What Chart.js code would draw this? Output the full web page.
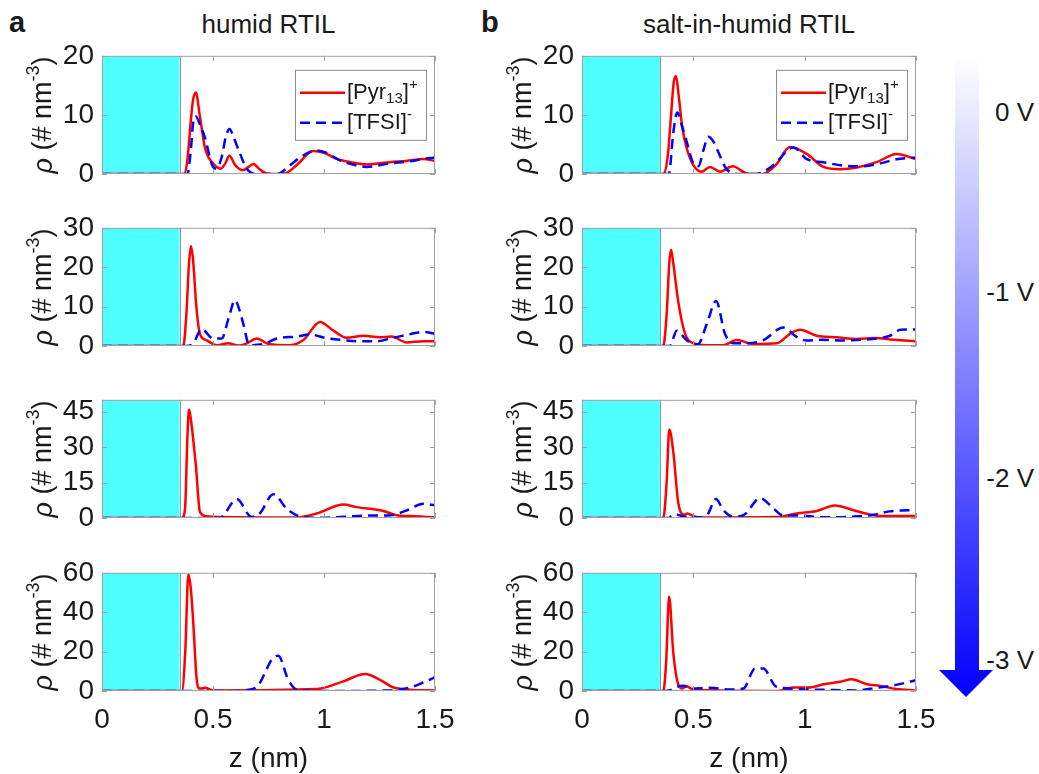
<!DOCTYPE html>
<html><head><meta charset="utf-8">
<script src="https://cdn.jsdelivr.net/npm/chart.js@4"></script>
<style>
body{margin:0;background:#fff;width:1039px;height:774px;overflow:hidden;position:relative;font-family:'Liberation Sans',Arial,sans-serif;}
canvas{position:absolute;}
.t{position:absolute;color:#1a1a1a;font-size:26px;line-height:30px;white-space:nowrap;}
.v{position:absolute;right:5px;color:#1a1a1a;font-size:26px;line-height:30px;text-align:right;white-space:nowrap;}
</style></head><body>
<div class="t" style="left:9px;top:7px;font-weight:bold;font-size:29px;">a</div>
<div class="t" style="left:481px;top:7px;font-weight:bold;font-size:29px;">b</div>
<div class="t" style="left:102px;width:333px;top:9px;text-align:center;">humid RTIL</div>
<div class="t" style="left:582px;width:334px;top:9px;text-align:center;">salt-in-humid RTIL</div>
<div class="v" style="top:97px;">0 V</div>
<div class="v" style="top:277px;">-1 V</div>
<div class="v" style="top:463px;">-2 V</div>
<div class="v" style="top:645px;">-3 V</div>
<canvas id="cbar" width="75" height="660" style="left:930px;top:50px;"></canvas>
<script>
// ---------- data ----------
const columnTitles = ['humid RTIL', 'salt-in-humid RTIL'];
const seriesLabels = ['[Pyr13]+', '[TFSI]-'];
const potentials = ['0 V', '-1 V', '-2 V', '-3 V'];
const xTicks = [0, 0.5, 1, 1.5];
const yMaxRows = [20, 30, 50, 60];
const yTicksRows = [[0, 10, 20], [0, 10, 20, 30], [0, 15, 30, 45], [0, 20, 40, 60]];
const electrodeZ = [0, 0.35];

// humid RTIL, 0 V
const a1PyrZ = [0, 0.37, 0.385, 0.40, 0.41, 0.423, 0.44, 0.464, 0.50, 0.535, 0.555, 0.574, 0.60, 0.634, 0.66, 0.682, 0.71, 0.742, 0.80, 0.832, 0.88, 0.951, 1.0, 1.057, 1.12, 1.192, 1.25, 1.297, 1.37, 1.447, 1.5];
const a1PyrRho = [0, 0, 2.5, 9, 12.5, 13.8, 10, 4.4, 1.8, 0.9, 1.8, 3.1, 1.5, 0.65, 1.2, 1.7, 0.8, 0.1, 0, 0.2, 1.6, 3.9, 3.6, 2.55, 2.0, 1.6, 1.8, 2.0, 2.2, 2.55, 2.2];
const a1TfsiZ = [0, 0.385, 0.40, 0.41, 0.423, 0.44, 0.464, 0.50, 0.516, 0.54, 0.557, 0.574, 0.595, 0.617, 0.652, 0.70, 0.79, 0.847, 0.90, 0.967, 1.01, 1.072, 1.13, 1.19, 1.297, 1.38, 1.447, 1.5];
const a1TfsiRho = [0, 0, 4, 8.5, 9.75, 8.5, 6.1, 1.2, 0.9, 3, 6.2, 7.6, 6, 3.9, 0.9, 0, 0, 1.5, 3.0, 4.0, 3.6, 2.3, 1.6, 1.2, 1.8, 2.1, 2.55, 2.8];
// salt-in-humid RTIL, 0 V
const b1PyrZ = [0, 0.365, 0.385, 0.40, 0.412, 0.422, 0.435, 0.45, 0.47, 0.50, 0.538, 0.575, 0.62, 0.677, 0.74, 0.81, 0.87, 0.934, 1.009, 1.084, 1.159, 1.234, 1.323, 1.413, 1.5];
const b1PyrRho = [0, 0, 3, 10, 15.5, 16.6, 13, 8, 4.4, 1.5, 0.4, 1.2, 0.4, 1.3, 0.1, 0, 1.5, 4.55, 3.4, 1.2, 0.8, 1.1, 2.0, 3.4, 2.5];
const b1TfsiZ = [0, 0.39, 0.41, 0.428, 0.45, 0.47, 0.50, 0.523, 0.545, 0.567, 0.59, 0.61, 0.65, 0.71, 0.78, 0.86, 0.95, 1.01, 1.084, 1.174, 1.25, 1.34, 1.413, 1.5];
const b1TfsiRho = [0, 0, 7, 10.4, 8, 5.5, 1.8, 1.3, 4, 6.3, 5.5, 3.9, 0.8, 0, 0, 1.5, 4.5, 2.5, 2.0, 1.4, 1.3, 1.8, 2.5, 2.8];
// -1 V
const a2PyrZ = [0, 0.366, 0.38, 0.392, 0.401, 0.41, 0.425, 0.441, 0.47, 0.517, 0.569, 0.614, 0.65, 0.697, 0.75, 0.847, 0.907, 0.982, 1.042, 1.102, 1.177, 1.25, 1.305, 1.372, 1.447, 1.5];
const a2PyrRho = [0, 0, 8, 21, 25.4, 22, 10, 3.1, 1.5, 0.2, 0.7, 0.1, 0.6, 1.9, 0.5, 0.2, 1.5, 6.1, 3.9, 2.1, 2.6, 2.2, 2.4, 0.9, 1.2, 1.2];
const a2TfsiZ = [0, 0.38, 0.41, 0.449, 0.5, 0.539, 0.57, 0.599, 0.62, 0.637, 0.664, 0.727, 0.787, 0.877, 0.937, 1.01, 1.087, 1.16, 1.237, 1.313, 1.387, 1.447, 1.5];
const a2TfsiRho = [0, 0, 0.6, 4.3, 1.9, 1.9, 7, 11.6, 9, 5.5, 0.2, 0.5, 1.9, 2.4, 2.9, 2.0, 1.5, 1.2, 1.2, 2.1, 3.0, 3.6, 3.1];
const b2PyrZ = [0, 0.365, 0.38, 0.392, 0.40, 0.41, 0.433, 0.463, 0.50, 0.56, 0.635, 0.695, 0.77, 0.875, 0.934, 0.979, 1.054, 1.144, 1.234, 1.31, 1.4, 1.5];
const b2PyrRho = [0, 0, 8, 21, 24.4, 21, 11, 3.1, 0.7, 0.2, 0.2, 1.5, 0.5, 0.7, 3.1, 4.1, 2.6, 2.2, 1.8, 2.0, 1.6, 1.2];
const b2TfsiZ = [0, 0.395, 0.425, 0.47, 0.52, 0.56, 0.602, 0.642, 0.68, 0.74, 0.815, 0.904, 0.964, 1.01, 1.08, 1.17, 1.25, 1.325, 1.383, 1.43, 1.5];
const b2TfsiRho = [0, 0, 3.9, 1.5, 0.4, 5.5, 11.4, 3.1, 0.7, 0.7, 1.5, 4.7, 2.3, 1.4, 1.6, 1.4, 1.6, 1.9, 2.6, 4.1, 4.2];
// -2 V
const a3PyrZ = [0, 0.359, 0.374, 0.385, 0.392, 0.40, 0.423, 0.441, 0.47, 0.54, 0.87, 0.967, 1.087, 1.147, 1.267, 1.327, 1.387, 1.5];
const a3PyrRho = [0, 0, 3.9, 35, 45.9, 42, 22, 2.7, 0.7, 0.4, 0.2, 1.9, 5.7, 4.6, 3.0, 1.2, 0.8, 0.3];
const a3TfsiZ = [0, 0.53, 0.607, 0.674, 0.71, 0.772, 0.832, 0.89, 0.99, 1.087, 1.19, 1.3, 1.367, 1.447, 1.5];
const a3TfsiRho = [0, 0, 8.0, 0.5, 1.9, 10.0, 4.0, 0.7, 0.1, 0.5, 1.0, 1.2, 3.0, 6.0, 5.4];
const b3PyrZ = [0, 0.365, 0.38, 0.392, 0.41, 0.433, 0.46, 0.473, 0.50, 0.53, 0.88, 0.964, 1.054, 1.136, 1.22, 1.31, 1.38, 1.5];
const b3PyrRho = [0, 0, 15, 37.4, 28, 6.0, 1.4, 1.9, 0.8, 0.2, 0.4, 1.9, 3.0, 5.3, 3.3, 1.2, 0.8, 0.8];
const b3TfsiZ = [0, 0.39, 0.40, 0.418, 0.47, 0.53, 0.56, 0.602, 0.635, 0.68, 0.73, 0.80, 0.86, 0.90, 0.99, 1.08, 1.2, 1.31, 1.38, 1.5];
const b3TfsiRho = [0, 0, 0.7, 1.5, 0.4, 0.3, 1.0, 8.0, 3.3, 0.5, 1.5, 8.4, 4.0, 1.2, 1.0, 0.3, 0.5, 1.4, 2.8, 3.4];
// -3 V
const a4PyrZ = [0, 0.36, 0.375, 0.389, 0.40, 0.411, 0.426, 0.44, 0.464, 0.50, 0.97, 1.087, 1.185, 1.252, 1.31, 1.387, 1.5];
const a4PyrRho = [0, 0, 20, 59.3, 52, 35, 6.5, 1.3, 1.6, 0.3, 1.0, 4.9, 8.6, 5.7, 1.9, 0.7, 0.3];
const a4TfsiZ = [0, 0.6, 0.65, 0.70, 0.769, 0.794, 0.839, 0.88, 1.0, 1.3, 1.39, 1.447, 1.5];
const a4TfsiRho = [0, 0, 0.5, 2.4, 16.6, 17.9, 5.7, 0.6, 0, 0.3, 1.9, 4.3, 7.0];
const b4PyrZ = [0, 0.365, 0.378, 0.391, 0.41, 0.428, 0.45, 0.47, 0.50, 0.88, 0.949, 1.024, 1.084, 1.16, 1.211, 1.28, 1.34, 1.41, 1.5];
const b4PyrRho = [0, 0, 15, 48, 19.5, 5.0, 1.3, 2.4, 0.6, 0, 1.8, 1.8, 3.4, 4.7, 6.0, 3.4, 2.6, 1.0, 0.3];
const b4TfsiZ = [0, 0.37, 0.40, 0.43, 0.455, 0.49, 0.575, 0.665, 0.725, 0.777, 0.814, 0.87, 0.93, 1.0, 1.08, 1.23, 1.32, 1.41, 1.5];
const b4TfsiRho = [0, 0, 0.6, 2.2, 2.7, 1.3, 1.6, 0.8, 1.3, 11.4, 11.4, 2.4, 1.3, 0.8, 0.6, 0.3, 1.6, 3.1, 5.5];

const panels = [
  [[a1PyrZ, a1PyrRho, a1TfsiZ, a1TfsiRho], [b1PyrZ, b1PyrRho, b1TfsiZ, b1TfsiRho]],
  [[a2PyrZ, a2PyrRho, a2TfsiZ, a2TfsiRho], [b2PyrZ, b2PyrRho, b2TfsiZ, b2TfsiRho]],
  [[a3PyrZ, a3PyrRho, a3TfsiZ, a3TfsiRho], [b3PyrZ, b3PyrRho, b3TfsiZ, b3TfsiRho]],
  [[a4PyrZ, a4PyrRho, a4TfsiZ, a4TfsiRho], [b4PyrZ, b4PyrRho, b4TfsiZ, b4TfsiRho]]
];

// ---------- layout ----------
const FONT = '"Liberation Sans", Arial, sans-serif';
const TXT = '#1a1a1a';
const AX = '#a0a0a0';
const plotTops = [51, 223, 395, 568];
const plotH = 123;
const colLeft = [0, 480];
const colWidth = [470, 471];
const PAD_T = 20, PAD_B = 25, PAD_R = 35, YAXIS_W = 102, XAXIS_H = 60;

function toXY(zs, vs) { return zs.map((z, i) => ({x: z, y: vs[i]})); }

function drawRich(ctx, segs, x, y, align, rotate) {
  ctx.save();
  ctx.translate(x, y);
  if (rotate) ctx.rotate(-Math.PI / 2);
  let w = 0;
  segs.forEach(s => { ctx.font = s.font; w += ctx.measureText(s.t).width; });
  let xx = align === 'center' ? -w / 2 : 0;
  ctx.textBaseline = 'middle';
  ctx.textAlign = 'left';
  ctx.fillStyle = TXT;
  segs.forEach(s => { ctx.font = s.font; ctx.fillText(s.t, xx, s.dy || 0); xx += ctx.measureText(s.t).width; });
  ctx.restore();
}

const yLabelSegs = [
  {t: 'ρ', font: 'italic 27px ' + FONT},
  {t: ' (# nm', font: '27px ' + FONT},
  {t: '-3', font: '18px ' + FONT, dy: -10},
  {t: ')', font: '27px ' + FONT}
];
const legendSegs = [
  [{t: '[Pyr', font: '22px ' + FONT}, {t: '13', font: '15px ' + FONT, dy: 6}, {t: ']', font: '22px ' + FONT}, {t: '+', font: '15px ' + FONT, dy: -8}],
  [{t: '[TFSI]', font: '22px ' + FONT}, {t: '-', font: '15px ' + FONT, dy: -8}]
];

const panelPlugin = {
  id: 'panelDeco',
  afterDatasetsDraw(chart) {
    const {ctx, chartArea: {left, right, top, bottom}, scales: {x, y}} = chart;
    const o = chart.options.plugins.panelDeco;
    ctx.save();
    const ex = Math.round(x.getPixelForValue(electrodeZ[1])) + 0.5;
    ctx.strokeStyle = '#7a9a9a'; ctx.lineWidth = 1;
    ctx.beginPath(); ctx.moveTo(ex, top); ctx.lineTo(ex, bottom); ctx.stroke();
    ctx.strokeStyle = AX; ctx.lineWidth = 1;
    ctx.strokeRect(left + 0.5, top + 0.5, right - left - 1, bottom - top - 1);
    ctx.beginPath();
    o.yTicks.forEach(v => {
      const py = Math.round(y.getPixelForValue(v)) + 0.5;
      ctx.moveTo(left, py); ctx.lineTo(left + 5, py);
      ctx.moveTo(right, py); ctx.lineTo(right - 5, py);
    });
    xTicks.forEach(v => {
      const px = Math.round(x.getPixelForValue(v)) + 0.5;
      ctx.moveTo(px, top); ctx.lineTo(px, top + 5);
      ctx.moveTo(px, bottom); ctx.lineTo(px, bottom - 5);
    });
    ctx.stroke();
    ctx.restore();
  },
  afterDraw(chart) {
    const {ctx, chartArea: {left, right, top, bottom}} = chart;
    const o = chart.options.plugins.panelDeco;
    drawRich(ctx, yLabelSegs, left - 58, (top + bottom) / 2, 'center', true);
    if (o.xTitle) {
      drawRich(ctx, [{t: o.xTitle, font: '28px ' + FONT}], (left + right) / 2, bottom + 68, 'center', false);
    }
    if (o.legend) {
      const bw = 131, bh = 70;
      const bx = right - 140, by = top + 14;
      ctx.save();
      ctx.fillStyle = '#fff';
      ctx.fillRect(bx, by, bw, bh);
      ctx.strokeStyle = '#8c8c8c'; ctx.lineWidth = 1;
      ctx.strokeRect(bx + 0.5, by + 0.5, bw, bh);
      const ds = chart.data.datasets;
      [0, 1].forEach(i => {
        const d = ds.find(q => q.label === seriesLabels[i]);
        const ly = by + 23 + i * 30;
        ctx.strokeStyle = d.borderColor; ctx.lineWidth = d.borderWidth;
        ctx.setLineDash(d.borderDash || []);
        ctx.beginPath(); ctx.moveTo(bx + 5, ly); ctx.lineTo(bx + 50, ly); ctx.stroke();
        ctx.setLineDash([]);
        drawRich(ctx, legendSegs[i], bx + 52, ly, 'left', false);
      });
      ctx.restore();
    }
  }
};

for (let r = 0; r < 4; r++) {
  for (let c = 0; c < 2; c++) {
    const isBottom = r === 3;
    const cv = document.createElement('canvas');
    const h = PAD_T + plotH + (isBottom ? XAXIS_H : 0) + PAD_B;
    cv.width = colWidth[c]; cv.height = h;
    cv.style.left = colLeft[c] + 'px';
    cv.style.top = (plotTops[r] - PAD_T) + 'px';
    document.body.appendChild(cv);
    const [pz, pr, tz, tr] = panels[r][c];
    const yMax = yMaxRows[r];
    const yT = yTicksRows[r];
    new Chart(cv, {
      type: 'line',
      data: {
        datasets: [
          {label: seriesLabels[0], data: toXY(pz, pr), borderColor: '#ff0000', borderWidth: 2.5,
           pointRadius: 0, cubicInterpolationMode: 'monotone', fill: false, order: 2},
          {label: seriesLabels[1], data: toXY(tz, tr), borderColor: '#0000ff', borderWidth: 2.5,
           borderDash: [10, 6], pointRadius: 0, cubicInterpolationMode: 'monotone', fill: false, order: 1},
          {label: 'electrode', data: electrodeZ.map(z => ({x: z, y: yMax})), backgroundColor: '#4dffff',
           borderWidth: 0, borderColor: 'rgba(0,0,0,0)', pointRadius: 0, fill: 'origin', tension: 0, order: 3}
        ]
      },
      options: {
        responsive: false, animation: false, devicePixelRatio: 1,
        layout: {padding: {left: 0, right: PAD_R, top: PAD_T, bottom: PAD_B}},
        plugins: {
          legend: {display: false}, tooltip: {enabled: false},
          panelDeco: {yTicks: yT, legend: r === 0, xTitle: isBottom ? 'z (nm)' : null}
        },
        scales: {
          x: {
            type: 'linear', min: 0, max: 1.5,
            grid: {display: false, drawTicks: false}, border: {display: false},
            ticks: {display: isBottom, padding: 12, color: TXT, font: {family: FONT, size: 28}, maxRotation: 0,
                    callback: v => String(v)},
            afterBuildTicks: s => { s.ticks = xTicks.map(v => ({value: v})); },
            afterFit: s => { s.height = isBottom ? XAXIS_H : 0; }
          },
          y: {
            type: 'linear', min: 0, max: yMax,
            grid: {display: false, drawTicks: false}, border: {display: false},
            ticks: {padding: 8, color: TXT, font: {family: FONT, size: 28}, callback: v => String(v)},
            afterBuildTicks: s => { s.ticks = yT.map(v => ({value: v})); },
            afterFit: s => { s.width = YAXIS_W; }
          }
        }
      },
      plugins: [panelPlugin]
    });
  }
}

// ---------- colour arrow ----------
(function () {
  const cv = document.getElementById('cbar');
  const ctx = cv.getContext('2d');
  const g = ctx.createLinearGradient(0, 7, 0, 645);
  g.addColorStop(0, 'rgba(255,255,255,1)');
  g.addColorStop(1, 'rgba(0,0,255,1)');
  ctx.fillStyle = g;
  ctx.beginPath();
  ctx.moveTo(25, 7); ctx.lineTo(49, 7); ctx.lineTo(49, 620); ctx.lineTo(63, 620);
  ctx.lineTo(36, 647); ctx.lineTo(9, 620); ctx.lineTo(25, 620); ctx.closePath();
  ctx.fill();
})();
</script>
</body></html>
